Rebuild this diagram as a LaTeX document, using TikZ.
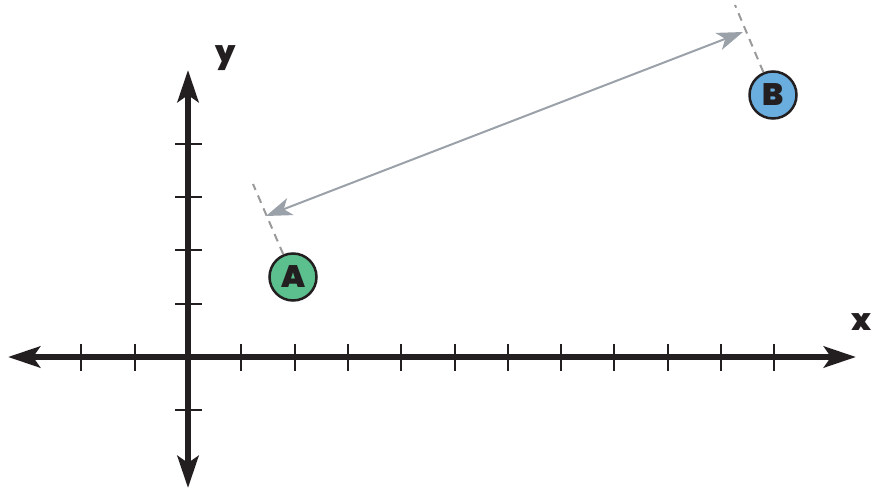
\documentclass[tikz,border=0pt]{standalone}
\usepackage{fontspec}
\newfontfamily\heavy{Poppins Black}
\usetikzlibrary{arrows.meta}
\definecolor{agreen}{HTML}{5BBF8E}
\definecolor{bblue}{HTML}{6AAEDF}
\definecolor{axisc}{HTML}{231F20}
\definecolor{arrgray}{HTML}{9BA1A9}
\definecolor{dashgray}{HTML}{9A9A9A}
\begin{document}
\begin{tikzpicture}[x=1pt,y=-1pt,
  axis/.style={line width=6pt, draw=axisc,
    {Stealth[length=32pt,width=21pt,inset=7pt]}-{Stealth[length=32pt,width=21pt,inset=7pt]}},
  tickmark/.style={line width=2pt, draw=axisc},
  pt/.style={circle, draw=axisc, line width=2.5pt, minimum size=47pt, inner sep=0pt,
    font=\heavy\fontsize{31}{31}\selectfont, text=axisc},
  guide/.style={draw=dashgray, line width=2pt, dash pattern=on 8pt off 6pt},
  dist/.style={draw=arrgray, line width=2pt,
    {Stealth[length=26pt,width=18pt,inset=7pt]}-{Stealth[length=26pt,width=18pt,inset=7pt]}},
  lab/.style={font=\heavy\fontsize{30}{30}\selectfont, text=axisc, inner sep=0pt}]
\useasboundingbox (0,0) rectangle (872,489);
\coordinate (xl) at (8,357);
\coordinate (xr) at (856,357);
\coordinate (yt) at (188,70);
\coordinate (yb) at (188,488);
\foreach \k in {-2,-1,1,2,3,4,5,6,7,8,9,10,11}
  \draw[tickmark] (188+53.3*\k,344) -- (188+53.3*\k,371);
\foreach \k in {-1,1,2,3,4}
  \draw[tickmark] (175,357-53.3*\k) -- (202,357-53.3*\k);
\draw[axis] (xl) -- (xr);
\draw[axis] (yb) -- (yt);
\node[lab] (xlab) at (862,322) {x};
\node[lab] (ylab) at (226,58) {y};
\node[pt, fill=agreen] (A) at (293,277) {A};
\node[pt, fill=bblue] (B) at (773,95) {B};
\coordinate (ga) at (253,184);
\coordinate (gb) at (735,5);
\coordinate (pa) at (266,216);
\coordinate (pb) at (743,32);
\draw[guide] (A) -- (ga);
\draw[guide] (B) -- (gb);
\draw[dist] (pa) -- (pb);
\end{tikzpicture}
\end{document}
